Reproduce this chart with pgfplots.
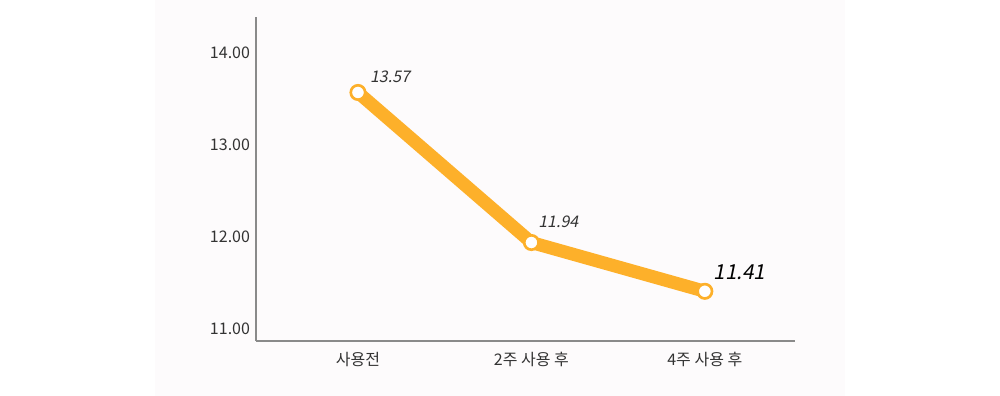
\documentclass[border=0pt]{standalone}
\usepackage{fontspec}
\setmainfont{Noto Sans CJK KR}
\newfontfamily\slantfont[FakeSlant=0.2]{Noto Sans CJK KR}
\usepackage{pgfplots}
\pgfplotsset{compat=1.18}
\definecolor{lineor}{HTML}{FDB02A}
\definecolor{panel}{HTML}{FDFBFC}
\definecolor{axgray}{HTML}{8A8A8A}
\definecolor{txt}{HTML}{333333}
\begin{document}
\begin{tikzpicture}[x=1pt,y=1pt]
\useasboundingbox (0,0) rectangle (750,297);
\fill[white] (0,0) rectangle (750,297);
\fill[panel] (116.25,0) rectangle (633.75,297);
\begin{axis}[
  at={(192pt,41.25pt)}, anchor=south west,
  scale only axis, width=404.25pt, height=243pt,
  xmin=-0.588, xmax=2.52, ymin=10.87, ymax=14.39,
  axis x line=bottom, axis y line=left,
  axis line style={-, axgray, line width=1pt},
  xtick={0,1,2}, xticklabels={사용전, 2주 사용 후, 4주 사용 후},
  ytick={11,12,13,14},
  yticklabel={\pgfmathprintnumber[fixed,fixed zerofill,precision=2]{\tick}},
  /pgf/number format/assume math mode=true,
  major tick length=0pt,
  tick label style={font=\fontsize{12pt}{14pt}\selectfont, text=txt},
  xticklabel style={yshift=-5pt},
  yticklabel style={xshift=-1pt},
  clip=false,
]
\addplot[lineor, line width=9.75pt, line join=round, line cap=round,
  mark=*, mark size=5.4pt,
  mark options={fill=white, draw=lineor, line width=2pt}]
  coordinates {(0,13.57) (1,11.94) (2,11.41)};
\node[text=txt, font=\slantfont\fontsize{12pt}{14pt}\selectfont] at (axis cs:0.185,13.745) {13.57};
\node[text=txt, font=\slantfont\fontsize{12pt}{14pt}\selectfont] at (axis cs:1.155,12.17) {11.94};
\node[text=black, font=\slantfont\fontsize{15.5pt}{18pt}\selectfont] at (axis cs:2.2,11.62) {11.41};
\end{axis}
\end{tikzpicture}
\end{document}
